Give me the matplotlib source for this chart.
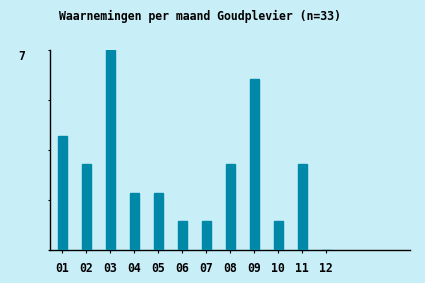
import matplotlib
matplotlib.use("Agg")
import matplotlib.pyplot as plt

months = ["01", "02", "03", "04", "05", "06", "07", "08", "09", "10", "11", "12"]
counts = [4, 3, 7, 2, 2, 1, 1, 3, 6, 1, 3, 0]
title = "Waarnemingen per maand Goudplevier (n=33)"
ymax = 7

bg = "#c8eef8"
bar_color = "#0088a8"
W, H = 425, 283
fig = plt.figure(figsize=(W / 100, H / 100), dpi=100, facecolor=bg)
ax = fig.add_axes([50 / W, (H - 250) / H, 360 / W, 200 / H])
ax.set_facecolor(bg)

x = list(range(len(months)))
ax.bar(x, counts, width=0.375, color=bar_color, edgecolor=bar_color,
       linewidth=1.0, zorder=3)

ax.set_xlim(-0.5, 14.5)
ax.set_ylim(0, ymax)

mono = dict(family="DejaVu Sans Mono", weight="bold", size=8.3)

ax.set_xticks(x)
ax.set_xticklabels(months, **mono)
ax.set_yticks([0, ymax * 0.25, ymax * 0.5, ymax * 0.75, ymax])
ax.set_yticklabels([])
ax.text(-0.07, 1.0 - 7 / 200, str(ymax), transform=ax.transAxes,
        ha="right", va="center", **mono)

ax.tick_params(axis="x", length=2.2, width=0.8, pad=6.5, color="black")
ax.tick_params(axis="y", length=1.6, width=0.8, color="black")

for s in ["top", "right"]:
    ax.spines[s].set_visible(False)
for s in ["left", "bottom"]:
    ax.spines[s].set_linewidth(1.0)
    ax.spines[s].set_color("black")

fig.text(200 / W, 1 - 16 / H, title, ha="center", va="center", **mono)

fig.savefig("out.png", dpi=100, facecolor=bg)
